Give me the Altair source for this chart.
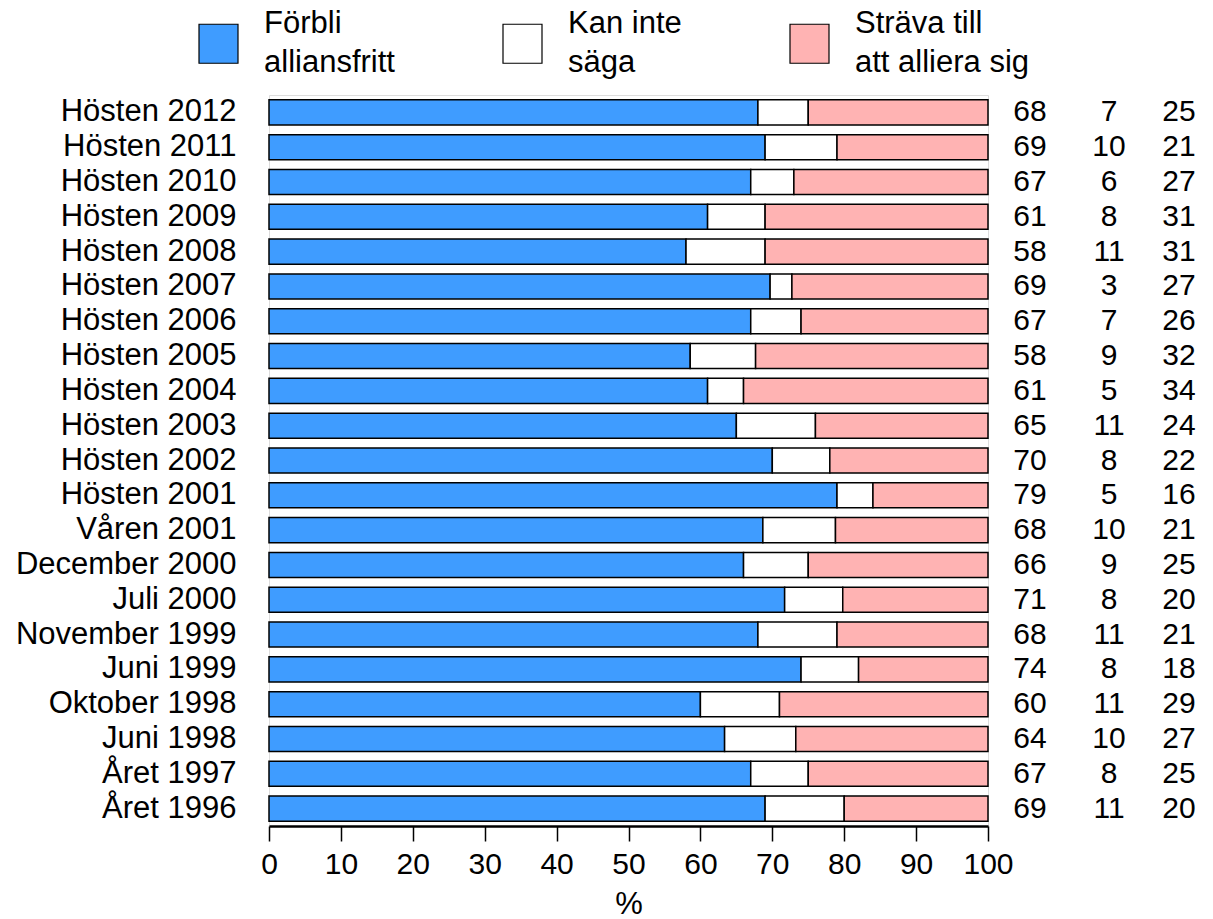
import altair as alt
import pandas as pd

periods = ["Hösten 2012", "Hösten 2011", "Hösten 2010", "Hösten 2009", "Hösten 2008",
           "Hösten 2007", "Hösten 2006", "Hösten 2005", "Hösten 2004", "Hösten 2003",
           "Hösten 2002", "Hösten 2001", "Våren 2001", "December 2000", "Juli 2000",
           "November 1999", "Juni 1999", "Oktober 1998", "Juni 1998", "Året 1997", "Året 1996"]
forbli = [68, 69, 67, 61, 58, 69, 67, 58, 61, 65, 70, 79, 68, 66, 71, 68, 74, 60, 64, 67, 69]
kan_inte = [7, 10, 6, 8, 11, 3, 7, 9, 5, 11, 8, 5, 10, 9, 8, 11, 8, 11, 10, 8, 11]
strava = [25, 21, 27, 31, 31, 27, 26, 32, 34, 24, 22, 16, 21, 25, 20, 21, 18, 29, 27, 25, 20]

series = ["Förbli alliansfritt", "Kan inte säga", "Sträva till att alliera sig"]
series_lines = [["Förbli", "alliansfritt"], ["Kan inte", "säga"], ["Sträva till", "att alliera sig"]]
colors = ["#3f9cff", "#ffffff", "#ffb3b3"]

rows = []
for i, p in enumerate(periods):
    for k, (s, vals) in enumerate(zip(series, [forbli, kan_inte, strava])):
        rows.append({"period": p, "series": s, "order": k, "value": vals[i]})
df = pd.DataFrame(rows)

label_expr = " : ".join(
    f"datum.label == '{s}' ? {lines!r}" for s, lines in zip(series, series_lines)
) + " : datum.label"

W, H = 719, 731
FONT = "Liberation Sans"
FS = 30
FS_L = 31

base = alt.Chart(df).transform_joinaggregate(
    total="sum(value)", groupby=["period"]
).transform_calculate(
    pct="datum.value / datum.total * 100"
)

y_scale = alt.Scale(domain=periods, paddingInner=0.28, paddingOuter=0.14)

y_enc = alt.Y("period:N", sort=periods, title=None, scale=y_scale,
              axis=alt.Axis(ticks=False, domain=False, labelPadding=33,
                            labelFontSize=FS_L, labelColor="black", labelFont=FONT,
                            labelLimit=400))

bars = base.mark_bar(stroke="black", strokeWidth=1.5).encode(
    x=alt.X("sum(pct):Q", stack="zero",
            scale=alt.Scale(domain=[0, 100], nice=False, zero=True),
            axis=alt.Axis(values=list(range(0, 101, 10)), grid=False,
                          domainColor="black", domainWidth=2.5, tickColor="black",
                          tickWidth=1.5, tickSize=15, labelFontSize=FS, labelFont=FONT,
                          labelColor="black", labelPadding=8, labelFlush=False,
                          labelOverlap=False,
                          titleFontSize=FS_L, titleFont=FONT, titleFontWeight="normal",
                          titleColor="black", titlePadding=10),
            title="%"),
    y=y_enc,
    color=alt.Color("series:N", sort=series,
                    scale=alt.Scale(domain=series, range=colors),
                    legend=alt.Legend(title=None, orient="none", legendX=-71, legendY=-72,
                                      direction="horizontal", symbolType="square",
                                      symbolSize=1521, symbolStrokeColor="black",
                                      symbolStrokeWidth=1.2, symbolOpacity=1,
                                      labelFontSize=FS_L, labelFont=FONT, labelColor="black",
                                      labelBaseline="line-bottom",
                                      labelOffset=25, columnPadding=105, labelLimit=400,
                                      labelExpr=label_expr)),
    order=alt.Order("order:Q", sort="ascending"),
)

col_x = [W + 42, W + 121, W + 191]
texts = []
for s, cx in zip(series, col_x):
    texts.append(
        alt.Chart(df).transform_filter(alt.datum.series == s).mark_text(
            fontSize=FS, font=FONT, color="black", align="center", baseline="middle"
        ).encode(
            x=alt.value(cx),
            y=alt.Y("period:N", sort=periods, scale=y_scale),
            text="value:Q",
        )
    )

chart = alt.layer(bars, *texts).properties(
    width=W, height=H, padding={"left": 7, "top": 15, "right": 5, "bottom": 0}
).configure_view(stroke=None).configure(
    font=FONT, style={"guide-label": {"lineHeight": 39}}
)

chart.save("out.html", embed_options={"renderer": "svg", "actions": False})
